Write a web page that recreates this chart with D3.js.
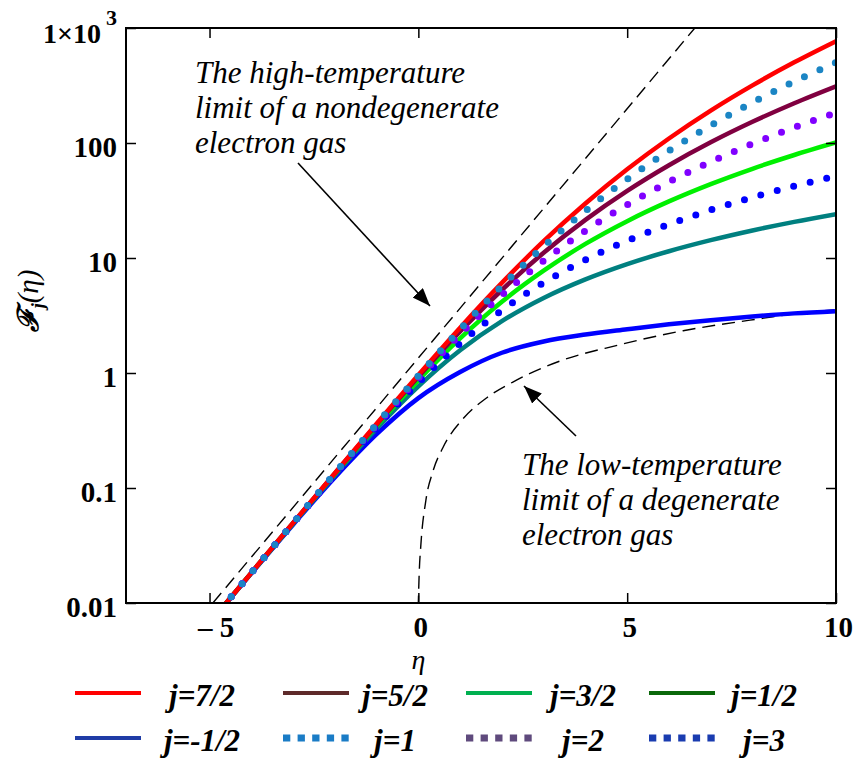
<!DOCTYPE html>
<html>
<head>
<meta charset="utf-8">
<script src="https://cdn.jsdelivr.net/npm/d3@7"></script>
<style>
  body { margin: 0; background: #fff; }
  svg { display: block; }
  svg text { font-family: "Liberation Serif", "DejaVu Serif", serif; }
</style>
</head>
<body>
<svg id="chart"></svg>
<script>
const width = 861;
const height = 764;

// reduced chemical potential
const eta = [-5, -4, -3, -2, -1, 0, 1, 2, 3, 4, 5, 6, 7, 8, 9, 10];

// Fermi-Dirac integrals
const fMinusHalf = [0.0067, 0.0181, 0.048, 0.1236, 0.294, 0.605, 1.02, 1.50, 1.88, 2.16, 2.40, 2.65, 2.88, 3.10, 3.30, 3.45];
const fHalf      = [0.0067, 0.0182, 0.0489, 0.1293, 0.328, 0.765, 1.576, 2.824, 4.488, 6.512, 8.844, 11.45, 14.29, 17.36, 20.62, 24.08];
const fOne       = [0.0067, 0.0183, 0.0492, 0.1310, 0.339, 0.8225, 1.806, 3.514, 6.096, 9.627, 14.14, 19.64, 26.14, 33.64, 42.14, 51.64];
const fThreeHalf = [0.0067, 0.0183, 0.0494, 0.1322, 0.347, 0.867, 2.002, 4.165, 7.757, 13.26, 20.92, 31.04, 43.89, 59.70, 78.67, 101.0];
const fTwo       = [0.0067, 0.0183, 0.0495, 0.1331, 0.3525, 0.9015, 2.164, 4.756, 9.48, 17.26, 29.06, 45.87, 68.68, 98.49, 136.3, 183.1];
const fFiveHalf  = [0.0067, 0.0183, 0.0496, 0.1337, 0.357, 0.9275, 2.295, 5.27, 11.12, 21.46, 38.35, 64.1, 101.4, 152.9, 221.8, 311.3];
const fThree     = [0.0067, 0.0183, 0.0496, 0.1342, 0.360, 0.947, 2.398, 5.717, 12.62, 25.70, 48.49, 85.5, 142.2, 225.2, 341.9, 500.8];
const fSevenHalf = [0.0067, 0.0183, 0.0497, 0.1345, 0.3623, 0.9615, 2.479, 6.08, 14.0, 29.8, 59.1, 109.5, 191.2, 316.9, 502.7, 767.5];

// limiting cases (dashed)
const highTempEta = [-4.92, 0, 3, 6.62];
const highTempF   = [0.01, 1.35, 27, 1000];
const lowTempEta  = [-0.025, 0.02, 0.06, 0.18, 0.35, 0.59, 1.07, 1.64, 2.36, 3.39, 4.76, 6.34, 7.94, 9.38, 10];
const lowTempF    = [0.004, 0.018, 0.032, 0.078, 0.14, 0.225, 0.40, 0.61, 0.87, 1.27, 1.74, 2.33, 2.88, 3.39, 3.55];

const xTicks = [-5, 0, 5, 10];
const yTicks = [0.01, 0.1, 1, 10, 100, 1000];

const legendLabels = ["j=7/2", "j=5/2", "j=3/2", "j=1/2", "j=-1/2", "j=1", "j=2", "j=3"];
const legendColors = ["#ff0000", "#5e2a2a", "#00b050", "#0a680a", "#1f3ca6", "#1a7cc6", "#5f4a7d", "#1a3cb0"];
const legendDotted = [false, false, false, false, false, true, true, true];

const serif = "Liberation Serif, DejaVu Serif, serif";

const svg = d3.select("#chart").attr("width", width).attr("height", height);

const x = d3.scaleLinear().domain([-7, 10]).range([126, 836]);
const y = d3.scaleLog().domain([0.01, 1000]).range([603, 28]);

svg.append("clipPath").attr("id", "plot-clip")
  .append("rect")
  .attr("x", x(-7)).attr("y", y(1000))
  .attr("width", x(10) - x(-7)).attr("height", y(0.01) - y(1000));

const line = d3.line()
  .x(d => x(d[0]))
  .y(d => y(d[1]))
  .curve(d3.curveMonotoneX);

const plot = svg.append("g").attr("clip-path", "url(#plot-clip)");

// dashed limits
plot.append("path")
  .attr("d", line(d3.zip(highTempEta, highTempF)))
  .attr("fill", "none").attr("stroke", "#000").attr("stroke-width", 1.4)
  .attr("stroke-dasharray", "13 7");
plot.append("path")
  .attr("d", line(d3.zip(lowTempEta, lowTempF)))
  .attr("fill", "none").attr("stroke", "#000").attr("stroke-width", 1.4)
  .attr("stroke-dasharray", "13 7");

// curves, bottom layer first
const curves = [
  { values: fMinusHalf, color: "#0000ff", dotted: false },
  { values: fHalf, color: "#008080", dotted: false },
  { values: fThreeHalf, color: "#00f000", dotted: false },
  { values: fFiveHalf, color: "#800040", dotted: false },
  { values: fSevenHalf, color: "#ff0000", dotted: false },
  { values: fOne, color: "#0000ff", dotted: true },
  { values: fTwo, color: "#8000ff", dotted: true },
  { values: fThree, color: "#1b85c4", dotted: true }
];

curves.forEach(c => {
  const p = plot.append("path")
    .attr("d", line(d3.zip(eta, c.values)))
    .attr("fill", "none")
    .attr("stroke", c.color);
  if (c.dotted) {
    p.attr("stroke-width", 7).attr("stroke-linecap", "round").attr("stroke-dasharray", "0 17");
  } else {
    p.attr("stroke-width", 4.5).attr("stroke-linejoin", "round");
  }
});

// axes
function styleAxis(g) {
  g.attr("font-family", null).attr("font-size", null);
  g.select(".domain").remove();
  g.selectAll(".tick line").attr("stroke", "#000").attr("stroke-width", 1.5);
  g.selectAll("text")
    .style("font-family", serif)
    .attr("font-weight", "bold")
    .attr("font-size", 29)
    .attr("fill", "#000");
}

svg.append("g")
  .attr("transform", `translate(${x(-7)},0)`)
  .call(d3.axisLeft(y).tickValues(yTicks).tickSizeInner(-10).tickSizeOuter(0).tickPadding(9)
    .tickFormat(d => d === 1000 ? "" : String(d)))
  .call(styleAxis)
  .call(g => g.selectAll("text").attr("dy", "0.45em"));

svg.append("g")
  .attr("transform", `translate(${x(10)},0)`)
  .call(d3.axisRight(y).tickValues(yTicks).tickSizeInner(-10).tickSizeOuter(0).tickFormat(""))
  .call(styleAxis);

svg.append("g")
  .attr("transform", `translate(0,${y(0.01)})`)
  .call(d3.axisBottom(x).tickValues(xTicks).tickSizeInner(-10).tickSizeOuter(0).tickPadding(13)
    .tickFormat(d => d < 0 ? "\u2013 " + Math.abs(d) : String(d)))
  .call(styleAxis)
  .call(g => g.selectAll("text").attr("dx", d => d < 0 ? 6 : 2));

svg.append("g")
  .attr("transform", `translate(0,${y(1000)})`)
  .call(d3.axisTop(x).tickValues(xTicks).tickSizeInner(-10).tickSizeOuter(0).tickFormat(""))
  .call(styleAxis);

// 1x10^3 label
const topLabel = svg.append("text")
  .attr("x", 43).attr("y", 43)
  .attr("font-weight", "bold");
topLabel.append("tspan").attr("font-size", 28).text("1\u00d710");
topLabel.append("tspan").attr("font-size", 22).attr("dx", 5).attr("dy", -18).text("3");

// frame
svg.append("rect")
  .attr("x", x(-7)).attr("y", y(1000))
  .attr("width", x(10) - x(-7)).attr("height", y(0.01) - y(1000))
  .attr("fill", "none").attr("stroke", "#000").attr("stroke-width", 2);

// axis titles
svg.append("text")
  .attr("x", x(0)).attr("y", 669)
  .attr("text-anchor", "middle")
  .attr("font-style", "italic").attr("font-size", 28)
  .text("\u03b7");

const yTitle = svg.append("text")
  .attr("transform", "translate(38,301) rotate(-90)")
  .attr("text-anchor", "middle")
  .attr("font-style", "italic").attr("font-weight", "bold").attr("font-size", 29);
yTitle.append("tspan").text("\u2131");
yTitle.append("tspan").attr("font-size", 18).attr("dy", 6).text("j");
yTitle.append("tspan").attr("dy", -6).attr("font-weight", "normal").text("(\u03b7)");

// annotations
const notes = [
  { x: 195, y: 83, lines: ["The high-temperature", "limit of a nondegenerate", "electron gas"] },
  { x: 522, y: 475, lines: ["The low-temperature", "limit of a degenerate", "electron gas"] }
];
notes.forEach(n => {
  svg.append("g").selectAll("text")
    .data(n.lines)
    .enter()
    .append("text")
    .attr("x", n.x)
    .attr("y", (d, i) => n.y + i * 35)
    .attr("font-style", "italic").attr("font-size", 31)
    .text(d => d);
});

svg.append("defs").append("marker")
  .attr("id", "arrow")
  .attr("markerUnits", "userSpaceOnUse")
  .attr("markerWidth", 20).attr("markerHeight", 16)
  .attr("refX", 18).attr("refY", 7)
  .attr("orient", "auto")
  .append("path")
  .attr("d", "M0,0 L18,7 L0,14 Z")
  .attr("fill", "#000");

svg.append("line")
  .attr("x1", 298).attr("y1", 163).attr("x2", 430).attr("y2", 306)
  .attr("stroke", "#000").attr("stroke-width", 1.6)
  .attr("marker-end", "url(#arrow)");
svg.append("line")
  .attr("x1", 576).attr("y1", 436).attr("x2", 524).attr("y2", 386)
  .attr("stroke", "#000").attr("stroke-width", 1.6)
  .attr("marker-end", "url(#arrow)");

// legend
const legendLineX = [75, 283, 466, 649];
const legendTextX = [202, 395, 583, 764];
const legendRowY = [693, 738];

const legend = svg.append("g")
  .selectAll("g")
  .data(legendLabels)
  .enter()
  .append("g");

legend.append("line")
  .attr("x1", (d, i) => legendLineX[i % 4])
  .attr("x2", (d, i) => legendLineX[i % 4] + 66)
  .attr("y1", (d, i) => legendRowY[Math.floor(i / 4)])
  .attr("y2", (d, i) => legendRowY[Math.floor(i / 4)])
  .attr("stroke", (d, i) => legendColors[i])
  .attr("stroke-width", (d, i) => legendDotted[i] ? 7 : 4)
  .attr("stroke-dasharray", (d, i) => legendDotted[i] ? "7.3 7.3" : null);

legend.append("text")
  .attr("x", (d, i) => legendTextX[i % 4])
  .attr("y", (d, i) => legendRowY[Math.floor(i / 4)] + 13)
  .attr("text-anchor", "middle")
  .attr("font-style", "italic").attr("font-weight", "bold")
  .attr("font-size", 31)
  .text(d => d);
</script>
</body>
</html>
